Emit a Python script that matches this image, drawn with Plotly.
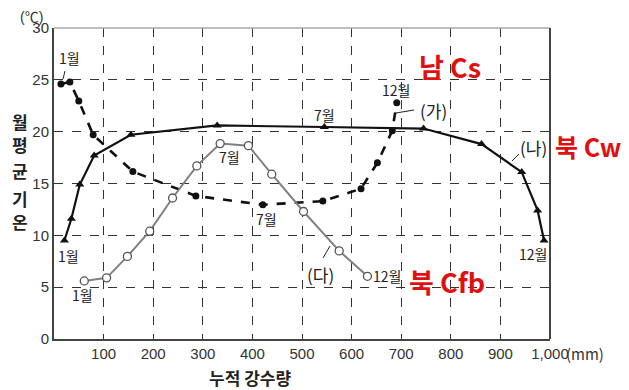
import plotly.graph_objects as go

# (가) dashed, filled circles
ga_x = [14, 32, 50, 79, 159, 286, 421, 542, 619, 652, 682, 691]
ga_y = [24.6, 24.8, 22.95, 19.7, 16.15, 13.8, 12.95, 13.3, 14.5, 17.0, 20.1, 22.8]
# (나) solid, triangles
na_x = [21, 35, 52, 81, 155, 329, 545, 745, 862, 943, 975, 988]
na_y = [9.5, 11.6, 14.9, 17.7, 19.7, 20.6, 20.45, 20.3, 18.8, 16.1, 12.4, 9.5]
# (다) gray, open circles
da_x = [61, 106, 148, 193, 239, 288, 335, 392, 439, 503, 575, 632]
da_y = [5.6, 5.9, 7.97, 10.4, 13.6, 16.7, 18.85, 18.65, 15.9, 12.3, 8.5, 6.05]

x_ticks = [100, 200, 300, 400, 500, 600, 700, 800, 900, 1000]
x_tick_labels = ["100", "200", "300", "400", "500", "600", "700", "800", "900", "1,000"]
y_ticks = [0, 5, 10, 15, 20, 25, 30]

# page body has an 8px margin: size the figure to fill the rest of the window
OFF = 8
W, H = 629 - OFF, 390 - OFF
L, R, T, B = 54, 550, 28, 339          # plot area in window pixels

def d(px, py):
    return ((px - L) / (R - L) * 1000, (B - py) / (B - T) * 30)

def p(px, py):
    return ((px - L) / (R - L), (B - py) / (B - T))

KFONT = "Noto Sans CJK KR, Liberation Sans, sans-serif"
LFONT = "Liberation Sans, Noto Sans CJK KR, sans-serif"

fig = go.Figure()
fig.add_trace(go.Scatter(x=ga_x, y=ga_y, mode="lines+markers",
                         line=dict(color="#111", width=2.6, dash="dash"),
                         marker=dict(symbol="circle", size=7, color="#111")))
fig.add_trace(go.Scatter(x=na_x, y=na_y, mode="lines+markers",
                         line=dict(color="#111", width=2.2),
                         marker=dict(symbol="triangle-up", size=8, color="#111")))
fig.add_trace(go.Scatter(x=da_x, y=da_y, mode="lines+markers",
                         line=dict(color="#808080", width=2),
                         marker=dict(symbol="circle", size=8, color="white",
                                     line=dict(color="#555", width=1.3))))

ann = []
def text(px, py, s, size=14, color="#222", xanchor="center", bold=False, family=KFONT):
    x, y = p(px, py)
    ann.append(dict(x=x, y=y, xref="paper", yref="paper",
                    text=("<b>%s</b>" % s) if bold else s,
                    showarrow=False, xanchor=xanchor, yanchor="middle",
                    font=dict(size=size, color=color, family=family)))

text(69, 58, "1월")
text(396, 90, "12월")
text(433, 110, "(가)", size=17)
text(266, 219, "7월")
text(324, 115, "7월")
text(533, 147, "(나)", size=17)
text(533, 254, "12월")
text(68, 256, "1월")
text(229, 157, "7월")
text(82, 295, "1월")
text(320, 274, "(다)", size=17)
text(371, 276, "12월", xanchor="left")

# red handwritten notes
text(450, 67, "남 Cs", size=27, color="#e01010", bold=True)
text(588, 146, "북 Cw", size=25, color="#e01010", bold=True)
text(447, 281, "북 Cfb", size=27, color="#e01010", bold=True)

# axis units / titles
text(31, 17, "(℃)", size=14, color="#333", family=LFONT)
text(585, 353, "(mm)", size=15, color="#333")
text(250, 377, "누적 강수량", size=17, bold=True)
for ch, yy in zip(["월", "평", "균", "기", "온"], [121, 144, 170, 198, 221]):
    text(20, yy, ch, size=17, bold=True)

shapes = []
def seg(p1, p2):
    x0, y0 = d(*p1); x1, y1 = d(*p2)
    shapes.append(dict(type="line", x0=x0, y0=y0, x1=x1, y1=y1, xref="x", yref="y",
                       line=dict(color="#222", width=1)))
seg((65, 71), (63, 79))
seg((396, 113), (414, 110))
seg((512, 161), (519, 154))
seg((323, 258), (330, 246))
# frame: light top, dark right
shapes.append(dict(type="line", xref="paper", yref="paper", x0=0, x1=1, y0=1, y1=1,
                   line=dict(color="#aaa", width=1.5)))
shapes.append(dict(type="line", xref="paper", yref="paper", x0=1, x1=1, y0=0, y1=1,
                   line=dict(color="#444", width=2)))

fig.update_layout(
    width=W, height=H,
    margin=dict(l=L - OFF, r=629 - R, t=T - OFF, b=390 - B, pad=0),
    paper_bgcolor="white", plot_bgcolor="white", showlegend=False,
    annotations=ann, shapes=shapes,
    font=dict(family=LFONT, color="#333"),
    xaxis=dict(range=[0, 1000], tickvals=x_ticks, ticktext=x_tick_labels,
               showgrid=True, gridcolor="#333", griddash="dash", gridwidth=1,
               showline=True, linecolor="#444", linewidth=2, mirror=False,
               ticks="", tickfont=dict(size=15, color="#333"), zeroline=False),
    yaxis=dict(range=[0, 30], tickvals=y_ticks,
               showgrid=True, gridcolor="#333", griddash="dash", gridwidth=1,
               showline=True, linecolor="#444", linewidth=2, mirror=False,
               ticks="", tickfont=dict(size=15, color="#333"), zeroline=False),
)

fig.write_html("out.html")
